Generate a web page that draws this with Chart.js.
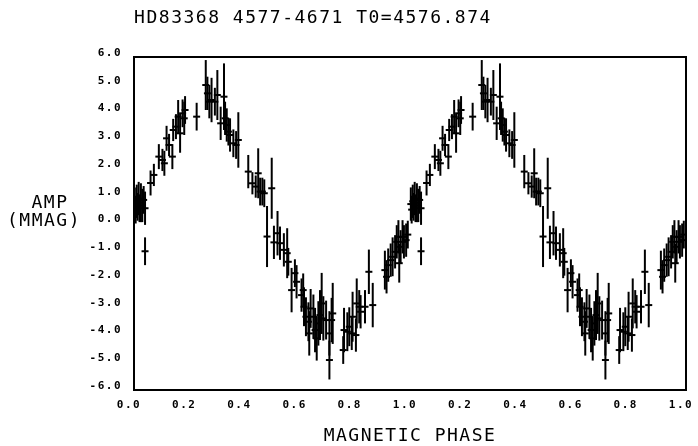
<!DOCTYPE html>
<html><head><meta charset="utf-8">
<script src="https://cdn.jsdelivr.net/npm/chart.js@4"></script>
<style>html,body{margin:0;padding:0;background:#fff}#wrap{width:698px;height:446px;position:relative}</style>
</head><body><div id="wrap"><canvas id="c" width="698" height="446"></canvas></div>
<script>
const titleText = "HD83368 4577-4671 T0=4576.874";
const xTitle = "MAGNETIC PHASE";
const yTitleLines = ["AMP", "(MMAG)"];

// one rotation of magnetic phase (plotted twice, as in the original figure)
const phase = [0.003,0.006,0.010,0.013,0.017,0.020,0.025,0.030,0.035,0.040,0.040,0.060,0.072,0.090,0.103,0.110,0.118,0.127,0.139,0.142,0.152,0.160,0.167,0.176,0.182,0.185,0.227,0.260,0.266,0.273,0.281,0.293,0.302,0.314,0.326,0.330,0.336,0.342,0.348,0.360,0.370,0.378,0.414,0.429,0.441,0.450,0.457,0.465,0.472,0.499,0.482,0.507,0.520,0.529,0.543,0.555,0.559,0.571,0.583,0.589,0.607,0.613,0.616,0.623,0.632,0.635,0.640,0.650,0.656,0.662,0.668,0.674,0.680,0.686,0.696,0.708,0.708,0.716,0.720,0.758,0.761,0.773,0.780,0.789,0.792,0.804,0.807,0.816,0.821,0.837,0.851,0.865,0.909,0.915,0.921,0.930,0.937,0.946,0.952,0.958,0.961,0.966,0.973,0.978,0.986,0.992];
const amp = [0.70,0.50,0.80,0.60,0.90,0.55,0.75,0.65,0.85,0.55,-1.00,1.46,1.75,2.41,2.29,2.17,3.07,2.83,2.41,3.37,3.49,3.85,3.25,3.97,3.79,4.09,3.85,4.99,4.69,4.39,4.45,4.39,4.63,3.61,4.57,3.79,3.55,3.31,3.19,2.89,2.83,3.01,1.87,1.45,1.33,1.81,1.15,1.15,1.09,1.27,-0.47,-0.68,-0.35,-0.71,-0.95,-1.07,-1.38,-2.40,-1.79,-2.10,-2.58,-2.40,-3.00,-3.36,-3.54,-3.96,-3.06,-3.36,-3.84,-4.14,-3.60,-3.30,-2.88,-3.42,-3.48,-3.96,-4.92,-3.48,-3.24,-4.56,-3.84,-3.90,-3.72,-3.96,-3.36,-4.02,-2.88,-3.00,-3.18,-3.00,-1.74,-2.94,-1.68,-1.92,-1.50,-1.32,-1.20,-1.02,-0.66,-0.48,-1.43,-0.84,-0.48,-0.66,-0.60,-0.40];
const err = [0.6,0.5,0.6,0.5,0.6,0.5,0.7,0.6,0.5,0.6,0.5,0.45,0.4,0.45,0.4,0.45,0.45,0.4,0.45,0.4,0.45,0.6,0.7,0.5,0.6,0.5,0.5,0.9,0.6,0.6,0.8,0.5,0.9,0.6,1.2,0.6,0.6,0.5,0.6,0.5,0.5,1.0,0.6,0.4,0.4,0.9,0.5,0.5,0.5,1.1,1.1,0.6,0.8,0.6,0.6,0.9,0.5,0.8,0.5,0.6,0.6,0.6,0.7,0.7,0.7,0.8,0.7,0.8,0.8,0.8,0.8,0.9,1.1,0.8,0.7,0.8,0.7,0.8,1.1,0.5,0.8,0.7,0.7,0.6,0.9,0.6,0.9,0.6,0.6,0.6,0.8,0.8,0.7,0.6,0.6,0.6,0.7,0.6,0.6,0.6,0.7,0.6,0.6,0.6,0.6,0.5];

const xTickValues = [0,0.2,0.4,0.6,0.8,1.0,1.2,1.4,1.6,1.8,2.0];
const yTickValues = [-6,-5,-4,-3,-2,-1,0,1,2,3,4,5,6];

const pts = [];
for (let cycle = 0; cycle < 2; cycle++) {
  for (let i = 0; i < phase.length; i++) {
    pts.push({x: phase[i] + cycle, y: amp[i], e: err[i]});
  }
}

const FONT = '"DejaVu Sans Mono", "Liberation Mono", monospace';

const spacingPlugin = {
  id: 'spacing',
  beforeDraw(chart) { chart.ctx.letterSpacing = '1.5px'; }
};

const errorBars = {
  id: 'errorBars',
  afterDatasetsDraw(chart) {
    const ctx = chart.ctx, xs = chart.scales.x, ys = chart.scales.y, a = chart.chartArea;
    ctx.save();
    ctx.beginPath(); ctx.rect(a.left, a.top, a.right - a.left, a.bottom - a.top); ctx.clip();
    ctx.strokeStyle = '#000'; ctx.lineWidth = 2;
    chart.data.datasets[0].data.forEach(p => {
      const px = xs.getPixelForValue(p.x);
      ctx.beginPath();
      ctx.moveTo(px, ys.getPixelForValue(p.y + p.e));
      ctx.lineTo(px, ys.getPixelForValue(p.y - p.e));
      ctx.stroke();
    });
    ctx.restore();
  }
};

const frameAndTitles = {
  id: 'frameAndTitles',
  afterDraw(chart) {
    const ctx = chart.ctx, a = chart.chartArea;
    ctx.save();
    ctx.strokeStyle = '#000'; ctx.lineWidth = 2;
    ctx.strokeRect(a.left, a.top, a.right - a.left, a.bottom - a.top);
    ctx.fillStyle = '#000';
    ctx.font = '18px ' + FONT;
    ctx.letterSpacing = '1.5px';
    ctx.textAlign = 'center'; ctx.textBaseline = 'middle';
    ctx.fillText(titleText, 313, 18);
    ctx.fillText(xTitle, (a.left + a.right) / 2, 436);
    ctx.fillText(yTitleLines[0], 50, 203);
    ctx.fillText(yTitleLines[1], 44, 221);
    ctx.restore();
  }
};

new Chart(document.getElementById('c'), {
  type: 'scatter',
  data: { datasets: [{
    data: pts,
    pointStyle: 'line',
    pointRadius: 3.5,
    pointBorderWidth: 2,
    borderColor: '#000',
    backgroundColor: '#000'
  }]},
  options: {
    responsive: false,
    animation: false,
    layout: { padding: { top: 57, right: 12, left: 0, bottom: 0 } },
    plugins: { legend: { display: false }, tooltip: { enabled: false }, title: { display: false } },
    scales: {
      x: {
        type: 'linear', min: 0, max: 2,
        afterBuildTicks: s => { s.ticks = xTickValues.map(v => ({value: v})); },
        afterFit: s => { s.height = 56; s.paddingLeft = 0; s.paddingRight = 0; },
        grid: { display: false, drawTicks: false },
        border: { display: false },
        ticks: {
          color: '#000', padding: 9, labelOffset: -5, maxRotation: 0, autoSkip: false,
          font: { family: FONT, size: 11, weight: 'bold' },
          callback: v => (v > 1.0001 ? v - 1 : v).toFixed(1)
        }
      },
      y: {
        type: 'linear', min: -6, max: 6,
        afterBuildTicks: s => { s.ticks = yTickValues.map(v => ({value: v})); },
        afterFit: s => { s.width = 134; s.paddingTop = 0; s.paddingBottom = 0; },
        grid: { display: false, drawTicks: false },
        border: { display: false },
        ticks: {
          color: '#000', padding: 12, labelOffset: -4, autoSkip: false,
          font: { family: FONT, size: 11, weight: 'bold' },
          callback: v => Number(v).toFixed(1)
        }
      }
    }
  },
  plugins: [spacingPlugin, errorBars, frameAndTitles]
});
</script>
</body></html>
